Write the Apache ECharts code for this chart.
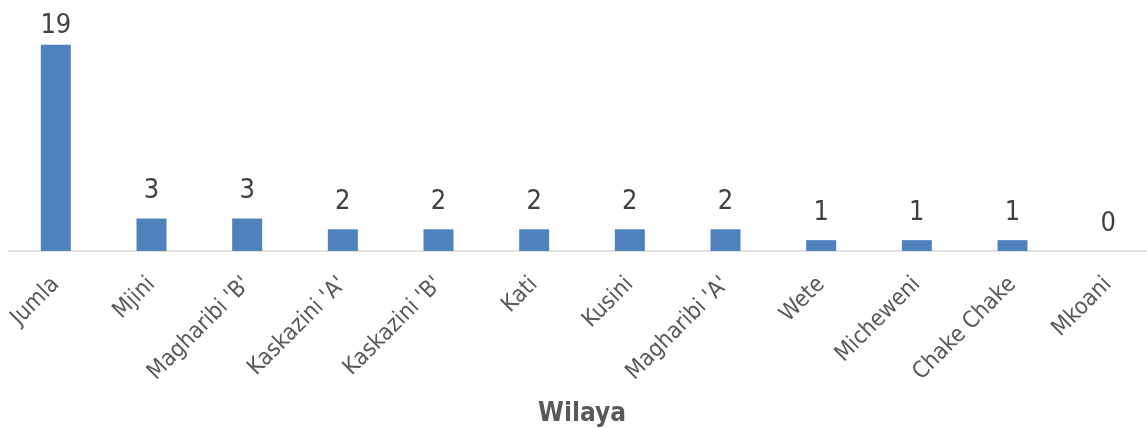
<!DOCTYPE html>
<html>
<head>
<meta charset="utf-8">
<script src="https://cdn.jsdelivr.net/npm/echarts@6/dist/echarts.min.js"></script>
<style>
html,body{margin:0;padding:0;background:#fff;}
#chart{width:1147px;height:428px;}
</style>
</head>
<body>
<div id="chart"></div>
<script>
const categories = ["Jumla", "Mjini", "Magharibi 'B'", "Kaskazini 'A'", "Kaskazini 'B'", "Kati", "Kusini", "Magharibi 'A'", "Wete", "Micheweni", "Chake Chake", "Mkoani"];
const values = [19, 3, 3, 2, 2, 2, 2, 2, 1, 1, 1, 0];
const axisTitle = "Wilaya";

const FONT = "'DejaVu Sans Condensed', 'Liberation Sans Narrow', sans-serif";
const yMax = 20;

const chart = echarts.init(document.getElementById('chart'), null, {renderer: 'canvas'});
chart.setOption({
  animation: false,
  backgroundColor: '#ffffff',
  grid: {left: 8, right: -9, top: 34, bottom: 177, containLabel: false, outerBoundsMode: 'none'},
  xAxis: {
    type: 'category',
    data: categories,
    name: axisTitle,
    nameLocation: 'middle',
    nameGap: 150,
    nameTextStyle: {fontFamily: FONT, fontWeight: 'bold', fontSize: 26, color: '#595959'},
    axisLine: {show: true, lineStyle: {color: '#d9d9d9', width: 1.5}},
    axisTick: {show: false},
    axisLabel: {rotate: 45, margin: 30, interval: 0, fontFamily: FONT, fontSize: 23, color: '#595959'}
  },
  yAxis: {
    type: 'value', min: 0, max: yMax, show: false,
    splitLine: {show: false}
  },
  series: [{
    type: 'bar',
    barWidth: 30,
    data: values.map((v, i) => i === 0 ? {value: v, label: {distance: 5}} : v),
    itemStyle: {color: '#4f81bd'},
    label: {show: true, position: 'top', distance: 14, fontFamily: FONT, fontSize: 27, color: '#404040'}
  }]
});
</script>
</body>
</html>
